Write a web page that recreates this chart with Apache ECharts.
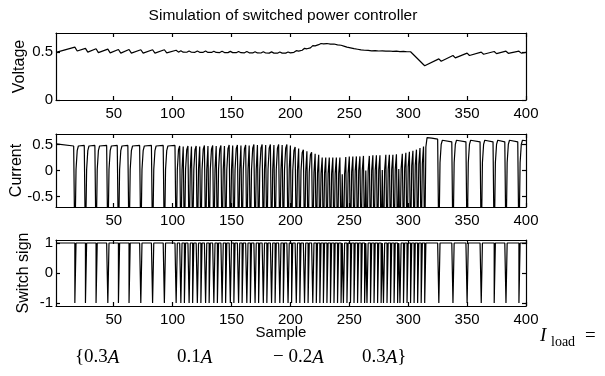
<!DOCTYPE html>
<html>
<head>
<meta charset="utf-8">
<script src="https://cdn.jsdelivr.net/npm/echarts@6/dist/echarts.min.js"></script>
<style>
  html, body { margin: 0; padding: 0; background: #fff; }
  #chart { width: 605px; height: 376px; }
</style>
</head>
<body>
<div id="chart"></div>
<script>
// values
const sampleTicks = [50, 100, 150, 200, 250, 300, 350, 400];
const voltageTicks = [0, 0.5];
const currentTicks = [-0.5, 0, 0.5];
const switchTicks = [-1, 0, 1];

// voltage vertices [sample, volts]
const voltage = [
  [1, 0.498], [17, 0.552], [19, 0.512], [26, 0.54], [28, 0.5], [35, 0.535], [37, 0.495],
  [45, 0.532], [47, 0.492], [54, 0.528], [56, 0.49], [63, 0.528], [65, 0.49], [73, 0.525],
  [75, 0.49], [83, 0.525], [85, 0.49], [93, 0.525], [95, 0.492],
  [103, 0.52], [105, 0.5], [107, 0.515], [109, 0.5], [110, 0.512], [112, 0.499], [114, 0.513],
  [116, 0.499], [117, 0.51], [119, 0.498], [121, 0.512], [123, 0.498], [124, 0.51], [126, 0.498],
  [128, 0.511], [130, 0.497], [131, 0.509], [133, 0.497], [135, 0.51], [137, 0.497], [138, 0.508],
  [140, 0.496], [142, 0.509], [144, 0.496], [145, 0.507], [147, 0.495], [149, 0.508], [151, 0.495],
  [152, 0.506], [154, 0.494], [156, 0.507], [158, 0.494], [159, 0.505], [161, 0.493], [163, 0.506],
  [165, 0.493], [166, 0.504], [168, 0.492], [170, 0.505], [172, 0.492], [173, 0.503], [175, 0.491],
  [177, 0.504], [179, 0.491], [180, 0.502], [182, 0.49], [184, 0.503], [186, 0.49], [187, 0.501],
  [189, 0.489], [191, 0.502], [193, 0.49], [194, 0.501], [196, 0.49], [198, 0.502], [200, 0.492],
  [201, 0.5], [203, 0.498], [205, 0.515], [207, 0.51], [208, 0.525], [210, 0.52], [212, 0.54],
  [214, 0.535], [215, 0.55], [217, 0.545], [219, 0.568], [221, 0.565], [222, 0.58], [224, 0.578],
  [226, 0.59], [228, 0.586], [231, 0.59], [234, 0.584], [237, 0.585], [240, 0.576], [243, 0.572],
  [246, 0.56], [248, 0.552], [251, 0.545], [254, 0.536], [257, 0.53], [260, 0.524], [263, 0.52],
  [266, 0.518], [269, 0.514], [272, 0.516], [275, 0.512], [278, 0.514], [281, 0.51], [284, 0.512],
  [287, 0.508], [290, 0.51], [293, 0.506], [296, 0.508], [299, 0.504], [302, 0.504],
  [314, 0.358],
  [326, 0.43], [328, 0.405], [338, 0.465], [340, 0.44], [350, 0.49], [352, 0.465], [362, 0.5],
  [364, 0.478], [373, 0.507], [375, 0.485], [383, 0.51], [385, 0.488], [394, 0.51], [396, 0.49],
  [400, 0.498]
];

// current vertices [sample, amps]; the -1.5 dips run off the bottom of the axes
const current = [
  [1, 0.51], [16, 0.47],
  [17, -1.5], [18, 0.02], [19, 0.38], [20, 0.47], [25, 0.48],
  [26, -1.5], [27, 0.02], [28, 0.38], [29, 0.47], [34, 0.48],
  [35, -1.5], [36, 0.02], [37, 0.38], [38, 0.47], [44, 0.48],
  [45, -1.5], [46, 0.02], [47, 0.38], [48, 0.47], [53, 0.48],
  [54, -1.5], [55, 0.02], [56, 0.38], [57, 0.47], [62, 0.48],
  [63, -1.5], [64, 0.02], [65, 0.38], [66, 0.47], [72, 0.48],
  [73, -1.5], [74, 0.02], [75, 0.38], [76, 0.47], [82, 0.48],
  [83, -1.5], [84, 0.02], [85, 0.38], [86, 0.47], [92, 0.48],
  [93, -1.5], [94, 0.02], [95, 0.38], [96, 0.47], [102, 0.48],
  [103, -1.5], [104, 0.02], [105, 0.4], [106, 0.47],
  [107, -1.5], [108, 0.02], [109, 0.46],
  [110, -1.5], [111, 0.02], [112, 0.4], [113, 0.47],
  [114, -1.5], [115, 0.02], [116, 0.46],
  [117, -1.5], [118, 0.02], [119, 0.4], [120, 0.47],
  [121, -1.5], [122, 0.02], [123, 0.46],
  [124, -1.5], [125, 0.02], [126, 0.41], [127, 0.48],
  [128, -1.5], [129, 0.02], [130, 0.47],
  [131, -1.5], [132, 0.02], [133, 0.41], [134, 0.48],
  [135, -1.5], [136, 0.02], [137, 0.47],
  [138, -1.5], [139, 0.02], [140, 0.41], [141, 0.48],
  [142, -1.5], [143, 0.02], [144, 0.47],
  [145, -1.5], [146, 0.02], [147, 0.42], [148, 0.49],
  [149, -1.5], [150, 0.02], [151, 0.48],
  [152, -1.5], [153, 0.02], [154, 0.42], [155, 0.49],
  [156, -1.5], [157, 0.02], [158, 0.48],
  [159, -1.5], [160, 0.02], [161, 0.42], [162, 0.49],
  [163, -1.5], [164, 0.02], [165, 0.48],
  [166, -1.5], [167, 0.02], [168, 0.43], [169, 0.5],
  [170, -1.5], [171, 0.02], [172, 0.49],
  [173, -1.5], [174, 0.02], [175, 0.43], [176, 0.5],
  [177, -1.5], [178, 0.02], [179, 0.49],
  [180, -1.5], [181, 0.02], [182, 0.43], [183, 0.5],
  [184, -1.5], [185, 0.02], [186, 0.49],
  [187, -1.5], [188, 0.02], [189, 0.43], [190, 0.5],
  [191, -1.5], [192, 0.02], [193, 0.49],
  [194, -1.5], [195, 0.02], [196, 0.43], [197, 0.5],
  [198, -1.5], [199, 0.02], [200, 0.48],
  [201, -1.5], [202, 0.0], [203, 0.38], [204, 0.45],
  [205, -1.5], [206, 0.0], [207, 0.42],
  [208, -1.5], [209, -0.01], [210, 0.34], [211, 0.4],
  [212, -1.5], [213, -0.02], [214, 0.37],
  [215, -1.5], [216, -0.03], [217, 0.3], [218, 0.35],
  [219, -1.5], [220, -0.04], [221, 0.32],
  [222, -1.5], [223, -0.05], [224, 0.3],
  [225, -1.5], [226, -0.06], [227, 0.25],
  [228, -1.5], [229, -0.06], [230, 0.25],
  [231, -1.5], [232, -0.06], [233, 0.25],
  [234, -1.5], [235, -0.06], [236, 0.25],
  [237, -1.5], [238, -0.06], [239, 0.25],
  [240, -1.5], [241, -0.06], [242, 0.25],
  [243, -1.5], [244, -0.07],
  [245, -1.5], [246, -0.07], [247, 0.26],
  [248, -1.5], [249, -0.05], [250, 0.27],
  [251, -1.5], [252, -0.03], [253, 0.27],
  [254, -1.5], [255, -0.01], [256, 0.27],
  [257, -1.5], [258, 0.0], [259, 0.27],
  [260, -1.5], [261, 0.0], [262, 0.28],
  [263, -1.5], [264, 0.0],
  [265, -1.5], [266, 0.0], [267, 0.28],
  [268, -1.5], [269, 0.0], [270, 0.29],
  [271, -1.5], [272, 0.0], [273, 0.29],
  [274, -1.5], [275, 0.01], [276, 0.29],
  [277, -1.5], [278, 0.01],
  [279, -1.5], [280, 0.01], [281, 0.3],
  [282, -1.5], [283, 0.02], [284, 0.3],
  [285, -1.5], [286, 0.02], [287, 0.3],
  [288, -1.5], [289, 0.02], [290, 0.31],
  [291, -1.5], [292, 0.03],
  [293, -1.5], [294, 0.04], [295, 0.32],
  [296, -1.5], [297, 0.05], [298, 0.34],
  [299, -1.5], [300, 0.07], [301, 0.36],
  [302, -1.5], [303, 0.09], [304, 0.38],
  [305, -1.5], [306, 0.1], [307, 0.4],
  [308, -1.5], [309, 0.12], [310, 0.43],
  [311, -1.5], [312, 0.13], [313, 0.46],
  [314, -1.5], [315, 0.45], [316, 0.63], [320, 0.62], [325, 0.6],
  [326, -1.5], [327, 0.15], [328, 0.5], [329, 0.58], [337, 0.55],
  [338, -1.5], [339, 0.15], [340, 0.5], [341, 0.58], [349, 0.55],
  [350, -1.5], [351, 0.15], [352, 0.5], [353, 0.58], [361, 0.55],
  [362, -1.5], [363, 0.15], [364, 0.5], [365, 0.58], [372, 0.55],
  [373, -1.5], [374, 0.15], [375, 0.5], [376, 0.58], [382, 0.55],
  [383, -1.5], [384, 0.15], [385, 0.5], [386, 0.58], [393, 0.55],
  [394, -1.5], [395, 0.15], [396, 0.5], [397, 0.58], [400, 0.57]
];

// samples where the switch sign is -1 (it is +1 everywhere else)
const switchEvents = [
  17, 26, 35, 45, 54, 63, 73, 83, 93,
  103, 107, 110, 114, 117, 121, 124, 128, 131, 135, 138, 142, 145, 149, 152, 156, 159,
  163, 166, 170, 173, 177, 180, 184, 187, 191, 194, 198,
  201, 205, 208, 212, 215, 219, 222,
  225, 228, 231, 234, 237, 240, 243, 245, 248, 251, 254, 257, 260, 263, 265, 268, 271,
  274, 277, 279, 282, 285, 288, 291, 293, 296, 299, 302, 305, 308, 311, 314,
  326, 338, 350, 362, 373, 383, 394
];

const loadLabels = ['{0.3{a|A}', '0.1{a|A}', '− 0.2{a|A}', '0.3{a|A}}'];
const loadLabelX = [75, 177, 273, 362];

const switchSign = [];
for (let s = 1; s <= 400; s++) {
  switchSign.push([s, switchEvents.indexOf(s) >= 0 ? -1 : 1]);
}

const sans = "'Liberation Sans', Arial, Helvetica, sans-serif";
const serif = "'Liberation Serif', 'DejaVu Serif', serif";

const panels = [
  {top: 33, height: 67, min: 0, max: 0.7, ticks: voltageTicks, name: 'Voltage', gap: 28, data: voltage},
  {top: 134, height: 73, min: -0.7, max: 0.7, ticks: currentTicks, name: 'Current', gap: 31, data: current},
  {top: 240, height: 66, min: -1.1, max: 1.1, ticks: switchTicks, name: 'Switch sign', gap: 24, data: switchSign, step: 'end'}
];

const black = {color: '#000', width: 1.2};
const grid = [], xAxis = [], yAxis = [], series = [];

panels.forEach(function (p, i) {
  grid.push({left: 56, width: 470, top: p.top, height: p.height, containLabel: false, outerBoundsMode: 'none'});
  xAxis.push({
    type: 'value', gridIndex: i, min: 1, max: 400, position: 'bottom',
    axisLine: {onZero: false, lineStyle: black},
    axisTick: {inside: true, length: 4, customValues: sampleTicks, lineStyle: black},
    axisLabel: {customValues: sampleTicks, color: '#000', fontSize: 15, fontFamily: sans, margin: 6},
    splitLine: {show: false}
  });
  yAxis.push({
    type: 'value', gridIndex: i, min: p.min, max: p.max, position: 'left',
    axisLine: {onZero: false, lineStyle: black},
    axisTick: {inside: true, length: 4, customValues: p.ticks, lineStyle: black},
    axisLabel: {customValues: p.ticks, color: '#000', fontSize: 15, fontFamily: sans, margin: 3},
    splitLine: {show: false},
    name: p.name, nameLocation: 'middle', nameGap: p.gap, nameMoveOverlap: false,
    nameTextStyle: {color: '#000', fontSize: 16, fontFamily: sans}
  });
  series.push({
    type: 'line', xAxisIndex: i, yAxisIndex: i, data: p.data, step: p.step || false,
    showSymbol: false, clip: true, lineStyle: {color: '#000', width: 1.2}
  });
});

// top and right frame of each box, with inward ticks
panels.forEach(function (p, i) {
  xAxis.push({
    type: 'value', gridIndex: i, min: 1, max: 400, position: 'top',
    axisLine: {onZero: false, lineStyle: black},
    axisTick: {inside: true, length: 4, customValues: sampleTicks, lineStyle: black},
    axisLabel: {show: false}, splitLine: {show: false}
  });
  yAxis.push({
    type: 'value', gridIndex: i, min: p.min, max: p.max, position: 'right',
    axisLine: {onZero: false, lineStyle: black},
    axisTick: {inside: true, length: 4, customValues: p.ticks, lineStyle: black},
    axisLabel: {show: false}, splitLine: {show: false}
  });
});

const graphic = [
  {type: 'text', x: 283, y: 16, style: {text: 'Simulation of switched power controller', fontSize: 15.5,
    fontFamily: sans, fill: '#000', align: 'center', verticalAlign: 'middle'}},
  {type: 'text', x: 281, y: 333, style: {text: 'Sample', fontSize: 15,
    fontFamily: sans, fill: '#000', align: 'center', verticalAlign: 'middle'}},
  {type: 'text', x: 540, y: 326, style: {text: 'I', fontSize: 19, fontStyle: 'italic', fontFamily: serif, fill: '#000'}},
  {type: 'text', x: 551, y: 335, style: {text: 'load', fontSize: 14, fontFamily: serif, fill: '#000'}},
  {type: 'text', x: 585, y: 327, style: {text: '=', fontSize: 19, fontFamily: serif, fill: '#000'}}
];
loadLabels.forEach(function (t, i) {
  graphic.push({
    type: 'text', x: loadLabelX[i], y: 348,
    style: {
      text: t, fontSize: 19, fontFamily: serif, fill: '#000',
      rich: {a: {fontSize: 19, fontStyle: 'italic', fontFamily: serif, fill: '#000'}}
    }
  });
});

const chart = echarts.init(document.getElementById('chart'));
chart.setOption({
  animation: false,
  backgroundColor: '#fff',
  grid: grid,
  xAxis: xAxis,
  yAxis: yAxis,
  series: series,
  graphic: graphic
});
</script>
</body>
</html>
